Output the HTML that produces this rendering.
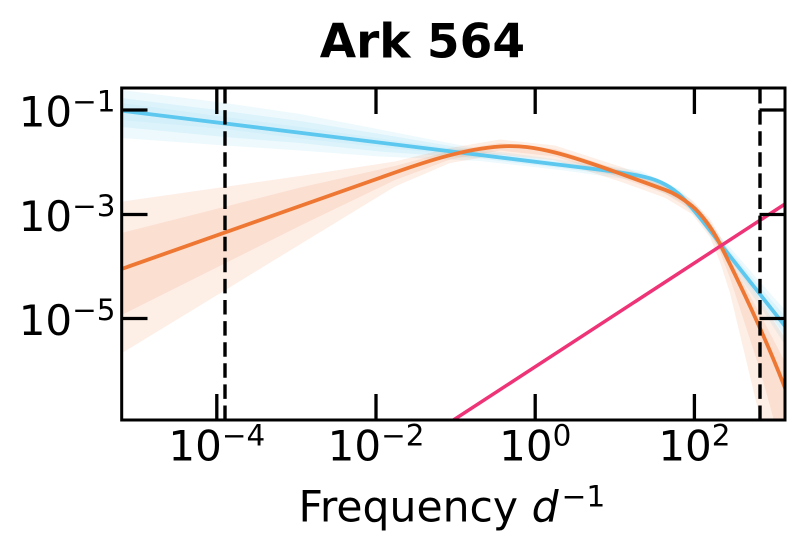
<!DOCTYPE html>
<html>
<head>
<meta charset="utf-8">
<style>
  html,body{margin:0;padding:0;background:#fff;}
  svg{display:block;}
  text{font-family:"DejaVu Sans","Liberation Sans",sans-serif;fill:#000;}
</style>
</head>
<body>
<svg width="803" height="552" viewBox="0 0 803 552" xmlns="http://www.w3.org/2000/svg">
  <rect x="0" y="0" width="803" height="552" fill="#fff"/>
  <defs>
    <clipPath id="ax">
      <rect x="121.7" y="88" width="663.3" height="332"/>
    </clipPath>
  </defs>

  <!-- Title -->
  <text x="422.4" y="57.5" font-size="47" font-weight="bold" text-anchor="middle">Ark 564</text>

  <g clip-path="url(#ax)">
    <!-- blue bands -->
    <polygon fill="#33BBEE" fill-opacity="0.09" points="121.5,90 225,103 300,114 380,129.5 480,149 560,159.9 640,170.5 680,189.5 700,209 720,236 760,282 785,310 785,345 760,306 720,250 700,221 680,201 640,181 560,170 480,161 380,156.5 300,150.5 225,145.5 121.5,138"/>
    <polygon fill="#33BBEE" fill-opacity="0.09" points="121.5,98 225,111 300,121 380,134 480,151 560,162 640,172.5 680,192 700,212 720,239 760,287 785,316 785,336 760,300 720,247 700,218 680,198 640,178.5 560,168 480,158.5 380,151.5 300,143 225,137 121.5,127"/>
    <polygon fill="#33BBEE" fill-opacity="0.06" points="121.5,103 225,117 300,127 380,138.5 480,152.5 480,157.5 380,147 300,138.5 225,129 121.5,120"/>

    <!-- orange bands -->
    <polygon fill="#EE7733" fill-opacity="0.12" points="121.5,201.7 225,186.9 300,176 395,161.5 450,148 500,139.5 555,145.5 620,166.5 665,182.8 692,200 710,219 720,236 730,253 760,300 785,338 785,540 760,418 730,293 720,262 710,237 692,214 665,197.8 620,181.5 555,160.5 500,154.5 450,163 395,186.5 300,244.4 225,290.2 121.5,353.3"/>
    <polygon fill="#EE7733" fill-opacity="0.12" points="121.5,233 225,206.7 300,187.6 395,166 450,151 500,143 555,149 620,170 665,186.3 692,203 710,222 720,240 730,259 760,314 785,362 785,460 760,370 730,278 720,252 710,231 692,210 665,193.8 620,177.5 555,156.5 500,150.5 450,159.5 395,180 300,225.8 225,263.3 121.5,315"/>

    <!-- blue line -->
    <path d="M121.5,110.7 L600,169.8 C615,171.7 630,173.5 645,177 C660,180.5 672,187 682,197 C694,209 708,228 722,246 L786,327.3" fill="none" stroke="#5CC7EF" stroke-width="3.8" stroke-linejoin="round"/>

    <!-- orange line -->
    <path d="M121.5,269 L395,172.5 C430,160.2 465,149 500,146.5 C520,145.1 535,147.5 555,152.5 C575,157.5 600,166.3 620,173.5 L665,189.8 C675,193.4 684,199.5 692,206 C700,212.5 712,228 720,244 C740,284 765,336 785,388 L790,402" fill="none" stroke="#EE7733" stroke-width="3.8" stroke-linejoin="round"/>

    <!-- pink line -->
    <line x1="453.5" y1="420" x2="787" y2="202.7" stroke="#EE3377" stroke-width="3.5"/>

    <!-- dashed verticals -->
    <line x1="225" y1="420" x2="225" y2="88" stroke="#000" stroke-width="3.4" stroke-dasharray="14.5 6.6"/>
    <line x1="760" y1="420" x2="760" y2="88" stroke="#000" stroke-width="3.4" stroke-dasharray="14.5 6.6"/>
  </g>

  <!-- ticks -->
  <g stroke="#000" stroke-width="3.3">
    <line x1="216.8" y1="420" x2="216.8" y2="394"/>
    <line x1="376" y1="420" x2="376" y2="394"/>
    <line x1="535.2" y1="420" x2="535.2" y2="394"/>
    <line x1="694.4" y1="420" x2="694.4" y2="394"/>
    <line x1="216.8" y1="88" x2="216.8" y2="114"/>
    <line x1="376" y1="88" x2="376" y2="114"/>
    <line x1="535.2" y1="88" x2="535.2" y2="114"/>
    <line x1="694.4" y1="88" x2="694.4" y2="114"/>
    <line x1="121.7" y1="110" x2="147.5" y2="110"/>
    <line x1="121.7" y1="214.5" x2="147.5" y2="214.5"/>
    <line x1="121.7" y1="318.5" x2="147.5" y2="318.5"/>
    <line x1="785" y1="110" x2="759.5" y2="110"/>
    <line x1="785" y1="214.5" x2="759.5" y2="214.5"/>
    <line x1="785" y1="318.5" x2="759.5" y2="318.5"/>
  </g>

  <!-- spines -->
  <rect x="121.7" y="88" width="663.3" height="332" fill="none" stroke="#000" stroke-width="3"/>

  <!-- y tick labels -->
  <text x="18.7" y="126.7" font-size="42">10<tspan dy="-15" font-size="29.4">−1</tspan></text>
  <text x="18.7" y="231.2" font-size="42">10<tspan dy="-15" font-size="29.4">−3</tspan></text>
  <text x="18.7" y="335.2" font-size="42">10<tspan dy="-15" font-size="29.4">−5</tspan></text>

  <!-- x tick labels -->
  <text x="216.8" y="460.7" font-size="42" text-anchor="middle">10<tspan dy="-15" font-size="29.4">−4</tspan></text>
  <text x="376" y="460.7" font-size="42" text-anchor="middle">10<tspan dy="-15" font-size="29.4">−2</tspan></text>
  <text x="535.2" y="460.7" font-size="42" text-anchor="middle">10<tspan dy="-15" font-size="29.4">0</tspan></text>
  <text x="694.4" y="460.7" font-size="42" text-anchor="middle">10<tspan dy="-15" font-size="29.4">2</tspan></text>

  <!-- x label -->
  <text x="298.5" y="521.7" font-size="42.5">Frequency <tspan font-style="italic">d</tspan><tspan dx="3" dy="-15" font-size="29.7">−1</tspan></text>
</svg>
</body>
</html>
